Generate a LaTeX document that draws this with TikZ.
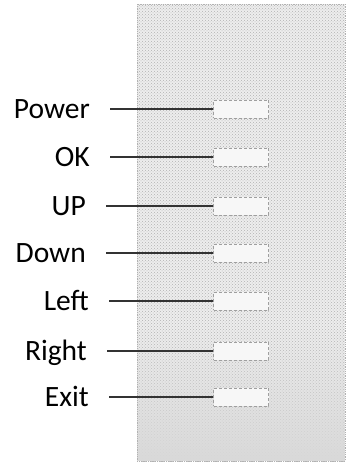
\documentclass[tikz,border=0pt]{standalone}
\usepackage{fontspec}
\setmainfont{Carlito}
\usetikzlibrary{patterns,fadings}

\tikzfading[name=fadetop, top color=transparent!100, bottom color=transparent!0]

\tikzset{
  keylabel/.style = {anchor=east, inner sep=0pt, text height=19pt, text depth=0pt,
                     font=\fontsize{29.5}{32}\selectfont},
  keybutton/.style = {draw=gray!75, densely dashed, line width=1pt, minimum width=55pt,
                      minimum height=18pt, inner sep=0pt, fill=gray!6},
  keywire/.style = {line width=2.6pt, black!80, shorten <=20pt},
}

\begin{document}
\begin{tikzpicture}[x=1pt,y=-1pt]

\useasboundingbox (0,0) rectangle (347,463);

\begin{scope}
\fill[gray!14] (137,4) rectangle (345,461);
\fill[pattern=crosshatch dots, pattern color=gray!60] (137,4) rectangle (345,461);
\fill[gray!30, path fading=fadetop] (137,330) rectangle (345,461);
\draw[gray!60, densely dotted, line width=0.8pt] (137,4) rectangle (345,461);
\end{scope}

\node[keylabel] (power) at (90,109) {Power};
\node[keylabel] (ok)    at (90,157) {OK};
\node[keylabel] (up)    at (86,206) {UP};
\node[keylabel] (down)  at (86,253) {Down};
\node[keylabel] (left)  at (89,301) {Left};
\node[keylabel] (right) at (87,351) {Right};
\node[keylabel] (exit)  at (89,397) {Exit};

\node[keybutton] (powerbtn) at (241,109) {};
\node[keybutton] (okbtn)    at (241,157) {};
\node[keybutton] (upbtn)    at (241,206) {};
\node[keybutton] (downbtn)  at (241,253) {};
\node[keybutton] (leftbtn)  at (241,301) {};
\node[keybutton] (rightbtn) at (241,351) {};
\node[keybutton] (exitbtn)  at (241,397) {};

\draw[keywire] (power.east) -- (powerbtn.west);
\draw[keywire] (ok.east)    -- (okbtn.west);
\draw[keywire] (up.east)    -- (upbtn.west);
\draw[keywire] (down.east)  -- (downbtn.west);
\draw[keywire] (left.east)  -- (leftbtn.west);
\draw[keywire] (right.east) -- (rightbtn.west);
\draw[keywire] (exit.east)  -- (exitbtn.west);

\end{tikzpicture}
\end{document}
